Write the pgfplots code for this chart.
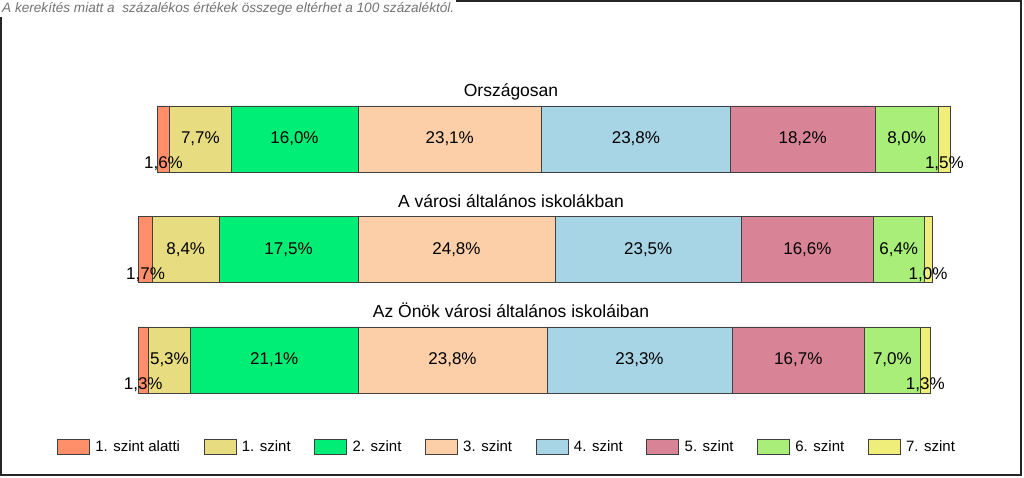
\documentclass[border=0pt]{standalone}
\usepackage{fontspec}
\setmainfont{Liberation Sans}
\usepackage{pgfplots}
\usepackage{pgfplotstable}
\pgfplotsset{compat=1.18}
\definecolor{cA}{HTML}{FF8F6B}
\definecolor{cB}{HTML}{E8DC80}
\definecolor{cC}{HTML}{00EE76}
\definecolor{cD}{HTML}{FCCFA8}
\definecolor{cE}{HTML}{A8D5E5}
\definecolor{cF}{HTML}{D98496}
\definecolor{cG}{HTML}{A8EE78}
\definecolor{cH}{HTML}{F0EE7A}

\pgfplotstableread{
y off a s1 s2 s3 s4 s5 s6 s7
2 4.7 1.6 7.7 16.0 23.1 23.8 18.2 8.0 1.5
1 2.4 1.7 8.4 17.5 24.8 23.5 16.6 6.4 1.0
0 2.3 1.3 5.3 21.1 23.8 23.3 16.7 7.0 1.3
}\data

\pgfplotsset{
  seg/.style={fill=#1, draw=black!75, line width=0.8pt,
    legend image code/.code={\draw[##1, line width=0.8pt] (0pt,-7.5pt) rectangle (32pt,7.5pt); \path (35.5pt,0pt);},
    point meta=rawx,
    nodes near coords={\pgfmathprintnumber[fixed,fixed zerofill,precision=1,use comma,assume math mode=true]{\pgfplotspointmeta}\%},
    every node near coord/.append style={font=\fontsize{17}{20}\selectfont, text=black}},
  small/.style={every node near coord/.append style={yshift=-25pt}},
}

\begin{document}
\begin{tikzpicture}
\useasboundingbox (0,0) rectangle (1024pt,478pt);
\fill[white] (0,0) rectangle (1024pt,478pt);
\draw[line width=1.5pt, black!85] (1pt,3pt) rectangle (1021pt,477pt);
\draw[line width=2.5pt, black!85] (1021pt,2pt) -- (1021pt,477pt);
\draw[line width=2.5pt, black!85] (1pt,3pt) -- (1022pt,3pt);
\begin{axis}[
  at={(119.8pt,62.75pt)}, anchor=south west,
  scale only axis, width=873.4pt, height=331.5pt,
  xmin=0, xmax=110, ymin=-0.5, ymax=2.5,
  hide axis,
  xbar stacked, bar width=66pt,
  legend style={at={(axis description cs:0.4433,-0.0943)}, anchor=center, draw=none, fill=none,
    legend columns=8, font=\fontsize{15}{18}\selectfont,
    /tikz/every even column/.append style={column sep=21.5pt}},
  legend cell align=left,
]
\addplot[draw=none, fill=none, forget plot] table[x=off, y=y] {\data};
\addplot[seg=cA, small] table[x=a, y=y] {\data};
\addplot[seg=cB] table[x=s1, y=y] {\data};
\addplot[seg=cC] table[x=s2, y=y] {\data};
\addplot[seg=cD] table[x=s3, y=y] {\data};
\addplot[seg=cE] table[x=s4, y=y] {\data};
\addplot[seg=cF] table[x=s5, y=y] {\data};
\addplot[seg=cG] table[x=s6, y=y] {\data};
\addplot[seg=cH, small] table[x=s7, y=y] {\data};
\legend{1. szint alatti, 1. szint, 2. szint, 3. szint, 4. szint, 5. szint, 6. szint, 7. szint}
\end{axis}
\node[anchor=base, font=\fontsize{17.5}{20}\selectfont] at (511pt,381pt) {Országosan};
\node[anchor=base, font=\fontsize{17.5}{20}\selectfont] at (511pt,270.5pt) {A városi általános iskolákban};
\node[anchor=base, font=\fontsize{17.5}{20}\selectfont] at (511pt,160pt) {Az Önök városi általános iskoláiban};
\node[anchor=north west, fill=white, inner sep=2pt, text=black!55, font=\fontsize{13.6}{15}\itshape] at (0pt,478pt) {A kerekítés miatt a\ \ százalékos értékek összege eltérhet a 100 százaléktól.};
\end{tikzpicture}
\end{document}
